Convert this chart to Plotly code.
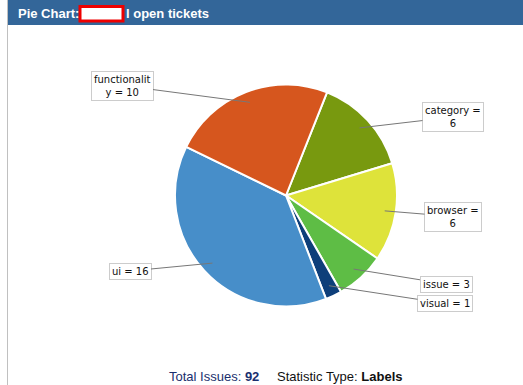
import math
import plotly.graph_objects as go

# ---- data ----
labels = ["category", "browser", "issue", "visual", "ui", "functionality"]
values = [6, 6, 3, 1, 16, 10]
colors = ["#78990F", "#DEE33A", "#5EBD45", "#0E3F7A", "#478EC9", "#D6561E"]
label_texts = ["category =<br>6", "browser =<br>6", "issue = 3", "visual = 1",
               "ui = 16", "functionalit<br>y = 10"]
# label box centres (pixel coordinates of the page)
label_pos = [(453, 117), (453, 216.5), (446, 284), (445, 303.5), (130, 271), (122, 85.5)]
total_issues = 92
stat_type = "Labels"

W, H = 523, 385
cx, cy, R = 286, 195.5, 111
rotation = 21.7

fig = go.Figure()

fig.add_trace(go.Pie(
    labels=labels, values=values, sort=False, direction="clockwise",
    rotation=rotation, textinfo="none", hoverinfo="label+value",
    marker=dict(colors=colors, line=dict(color="white", width=2)),
    domain=dict(x=[(cx - R) / W, (cx + R) / W], y=[(H - cy - R) / H, (H - cy + R) / H]),
    showlegend=False,
))

# leader-line annotations computed from the data
tot = sum(values)
start = rotation
for v, txt, (lx, ly) in zip(values, label_texts, label_pos):
    span = v / tot * 360
    mid = math.radians(start + span / 2)
    start += span
    tx = cx + 0.9 * R * math.sin(mid)
    ty = cy - 0.9 * R * math.cos(mid)
    fig.add_annotation(
        x=tx, y=ty, xref="x", yref="y", ax=lx, ay=ly, axref="x", ayref="y",
        text=txt, showarrow=True, arrowhead=0, arrowwidth=1, arrowcolor="#777777",
        font=dict(family="DejaVu Sans", size=10, color="#111111"),
        bgcolor="white", bordercolor="#CCCCCC", borderwidth=1, borderpad=2,
        align="center",
    )

# header bar
fig.add_shape(type="rect", xref="x", yref="y", x0=8, x1=W, y0=0, y1=25,
              fillcolor="#336699", line=dict(width=0), layer="below")
fig.add_shape(type="line", xref="x", yref="y", x0=7.5, x1=7.5, y0=0, y1=H,
              line=dict(color="#C0C0C0", width=1))
fig.add_shape(type="rect", xref="x", yref="y", x0=80, x1=123, y0=6.5, y1=21,
              fillcolor="white", line=dict(color="#EE0000", width=3))
fig.add_annotation(x=16, y=13, xref="x", yref="y", xanchor="left", yanchor="middle",
                   text="<b>Pie Chart:</b>", showarrow=False,
                   font=dict(family="Liberation Sans", size=13, color="white"))
fig.add_annotation(x=124, y=13, xref="x", yref="y", xanchor="left", yanchor="middle",
                   text="<b>l open tickets</b>", showarrow=False,
                   font=dict(family="Liberation Sans", size=13, color="white"))

# footer
fig.add_annotation(x=167, y=376, xref="x", yref="y", xanchor="left", yanchor="middle",
                   text=f"Total Issues: <b>{total_issues}</b>", showarrow=False,
                   font=dict(family="Liberation Sans", size=13, color="#1A2F6E"))
fig.add_annotation(x=275, y=376, xref="x", yref="y", xanchor="left", yanchor="middle",
                   text=f"Statistic Type: <b>{stat_type}</b>", showarrow=False,
                   font=dict(family="Liberation Sans", size=13, color="#111111"))

fig.update_layout(
    width=W, height=H, margin=dict(l=0, r=0, t=0, b=0),
    paper_bgcolor="white", plot_bgcolor="rgba(0,0,0,0)",
    xaxis=dict(range=[0, W], visible=False, domain=[0, 1], fixedrange=True),
    yaxis=dict(range=[H, 0], visible=False, domain=[0, 1], fixedrange=True),
)

fig.write_html("out.html", config={"displayModeBar": False},
               post_script="document.body.style.margin='0';document.body.style.overflow='hidden';")
